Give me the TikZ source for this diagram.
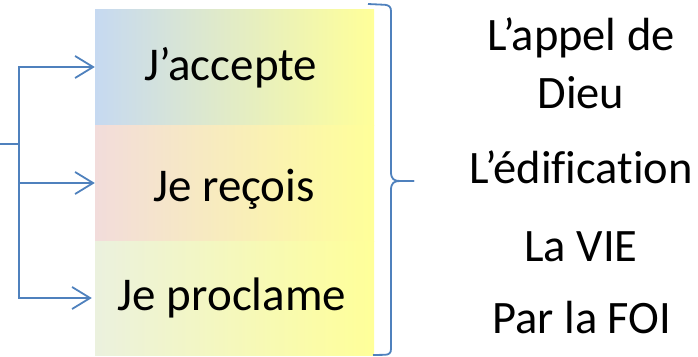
\documentclass[tikz,border=0pt]{standalone}
\usepackage{fontspec}
\setmainfont{Carlito}[Ligatures={NoCommon}]
\usetikzlibrary{arrows.meta}
\definecolor{lnblue}{HTML}{4F81BD}
\definecolor{cA}{HTML}{C6D9F1}
\definecolor{cB}{HTML}{F2DCDB}
\definecolor{cC}{HTML}{EBF1DE}
\definecolor{yel}{HTML}{FFFF99}
\tikzset{
  box/.style={draw=none, minimum width=279pt, minimum height=116pt, inner sep=0pt, shading=axis, shading angle=90, right color=yel},
  lefttxt/.style={anchor=base, inner sep=0pt, font=\fontsize{47}{50}\selectfont},
  righttxt/.style={anchor=base, inner sep=0pt, font=\fontsize{46.5}{48}\selectfont},
  conn/.style={draw=lnblue, line width=1.8pt, line join=miter},
  arr/.style={conn, -{Straight Barb[length=18pt,width=22pt,line width=1.8pt]}},
}
\begin{document}
\begin{tikzpicture}[x=1pt,y=-1pt]
\useasboundingbox (0,0) rectangle (698,356);
% boxes
\node[box, left color=cA, right color=yel] (b1) at (234.5,67) {};
\node[box, left color=cB, right color=yel, minimum height=116pt] (b2) at (234.5,183) {};
\node[box, left color=cC, right color=yel, minimum height=114pt] (b3) at (234.5,298) {};
% box texts
\node[lefttxt] (t1) at (231,80.7) {J’accepte};
\node[lefttxt] (t2) at (234,201.7) {Je reçois};
\node[lefttxt] (t3) at (232,310.7) {Je proclame};
% connectors
\coordinate (j) at (0,144);
\coordinate (sp) at (19,144);
\draw[conn] (j) -- (sp);
\draw[arr] (sp) |- (b1.west);
\draw[arr] (sp) |- (b2.west);
\draw[arr, shorten >=3pt] (sp) |- (b3.west);
% brace
\coordinate (bt) at (368,4);
\coordinate (bm) at (414,181);
\coordinate (bb) at (373,355);
\draw[conn, line join=round] (bt) -- (385,4.8) .. controls (389,5.2) and (391,7) .. (391,11)
  -- (391,172) .. controls (391,179) and (394,181) .. (400,181) -- (bm);
\draw[conn, line join=round] (bm) -- (400,181) .. controls (394,181) and (391,183) .. (391,190)
  -- (391,349) .. controls (391,353) and (389,354.6) .. (385,354.8) -- (bb);
% right texts
\node[righttxt] (r1) at (581,50.7) {L’appel de};
\node[righttxt] (r2) at (581,108) {Dieu};
\node[righttxt] (r3) at (581,183) {L’édification};
\node[righttxt] (r4) at (581,261) {La VIE};
\node[righttxt] (r5) at (582,333) {Par la FOI};
\end{tikzpicture}
\end{document}
